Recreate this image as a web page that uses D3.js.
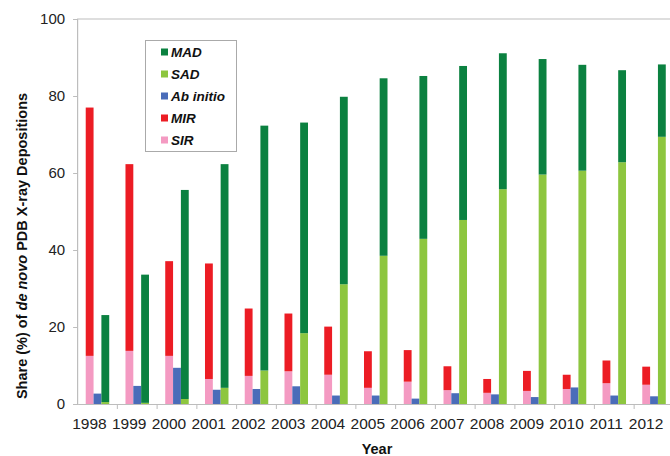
<!DOCTYPE html>
<html><head><meta charset="utf-8">
<script src="https://cdn.jsdelivr.net/npm/d3@7"></script>
<style>body{margin:0;background:#fff}svg{display:block;font-family:Arial,"Liberation Sans",sans-serif}</style>
</head><body>
<svg id="c" width="670" height="456"></svg>
<script>
const years = [1998,1999,2000,2001,2002,2003,2004,2005,2006,2007,2008,2009,2010,2011,2012];
const SIR = [12.5,13.8,12.5,6.5,7.3,8.5,7.6,4.2,5.8,3.6,2.9,3.4,3.9,5.4,5.0];
const MIR = [64.5,48.5,24.6,30.0,17.5,15.0,12.5,9.5,8.2,6.2,3.6,5.2,3.7,5.9,4.7];
const AbInitio = [2.7,4.7,9.4,3.7,3.9,4.6,2.2,2.2,1.4,2.8,2.5,1.8,4.3,2.2,2.0];
const SAD = [0.5,0.3,1.3,4.2,8.7,18.4,31.1,38.5,42.9,47.8,55.8,59.6,60.6,62.8,69.4];
const MAD = [22.6,33.3,54.3,58.1,63.6,54.7,48.7,46.1,42.3,40.0,35.3,30.0,27.5,23.9,18.8];
const yTicks = [0,20,40,60,80,100];
const legendItems = ["MAD","SAD","Ab initio","MIR","SIR"];
const colors = {MAD:"#0b8140", SAD:"#8dc63f", "Ab initio":"#4a6cb9", MIR:"#ec1c24", SIR:"#f49ac2"};

const svg = d3.select("#c");
const L = 77.6, R = 673.9, T = 19, B = 404;
const x = d3.scaleBand().domain(years).range([L, R]).padding(0);
const y = d3.scaleLinear().domain([0,100]).range([B, T]);
const groupW = 23.5;
const sub = d3.scaleBand().domain(["ir","ab","ad"]).range([0, groupW]).padding(0);
const off = (x.bandwidth() - groupW)/2;

const rows = years.map((yr,i)=>({year:yr, SIR:SIR[i], MIR:MIR[i], "Ab initio":AbInitio[i], SAD:SAD[i], MAD:MAD[i]}));

// frame: top line
svg.append("line").attr("x1",L-0.5).attr("x2",670).attr("y1",T).attr("y2",T).attr("stroke","#bdbdbd").attr("stroke-width",1.2);

function drawStack(keys, subKey){
  const st = d3.stack().keys(keys)(rows);
  st.forEach(layer=>{
    svg.append("g").selectAll("rect").data(layer).join("rect")
      .attr("x", d=>x(d.data.year)+off+sub(subKey))
      .attr("width", sub.bandwidth())
      .attr("y", d=>y(d[1]))
      .attr("height", d=>y(d[0])-y(d[1]))
      .attr("fill", colors[layer.key]);
  });
}
drawStack(["SIR","MIR"],"ir");
drawStack(["Ab initio"],"ab");
drawStack(["SAD","MAD"],"ad");

// y axis
const ya = svg.append("g").attr("transform",`translate(${L-0.5},0)`)
  .call(d3.axisLeft(y).tickValues(yTicks).tickSize(4).tickPadding(8).tickFormat(d3.format("d")));
ya.select(".domain").attr("stroke","#bdbdbd").attr("stroke-width",1.2);
ya.selectAll(".tick line").attr("stroke","#bdbdbd");
ya.selectAll("text").attr("font-size",15).attr("fill","#222").attr("font-family","Arial, 'Liberation Sans', sans-serif");

// x axis
const xa = svg.append("g").attr("transform",`translate(0,${B})`)
  .call(d3.axisBottom(x).tickSize(0).tickPadding(14));
xa.select(".domain").attr("stroke","#bdbdbd").attr("stroke-width",1.2);
xa.selectAll("text").attr("font-size",15.5).attr("fill","#222").attr("dx",-8).attr("font-family","Arial, 'Liberation Sans', sans-serif");
// boundary ticks
svg.append("g").selectAll("line").data(years.slice(1)).join("line")
  .attr("x1",d=>x(d)).attr("x2",d=>x(d)).attr("y1",B).attr("y2",B+5)
  .attr("stroke","#bdbdbd");

// axis titles
svg.append("text").attr("x",377).attr("y",454).attr("text-anchor","middle")
  .attr("font-size",14.5).attr("font-weight","bold").attr("fill","#111").text("Year");
const yt = svg.append("text").attr("transform","translate(27,246) rotate(-90)")
  .attr("text-anchor","middle").attr("font-size",14.5).attr("font-weight","bold").attr("fill","#111");
yt.append("tspan").text("Share (%) of ");
yt.append("tspan").attr("font-style","italic").text("de novo");
yt.append("tspan").text(" PDB X-ray Depositions");

// legend
const lg = svg.append("g");
lg.append("rect").attr("x",145.5).attr("y",40.5).attr("width",91).attr("height",111)
  .attr("fill","#fff").attr("stroke","#aaa").attr("stroke-width",1);
legendItems.forEach((k,i)=>{
  const cy = 52 + i*22;
  lg.append("rect").attr("x",161).attr("y",cy-3.5).attr("width",7).attr("height",7).attr("fill",colors[k]);
  lg.append("text").attr("x",171).attr("y",cy+4.5).attr("font-size",13.5).attr("font-weight","bold")
    .attr("font-style","italic").attr("fill","#111").text(k);
});
</script>
</body></html>
